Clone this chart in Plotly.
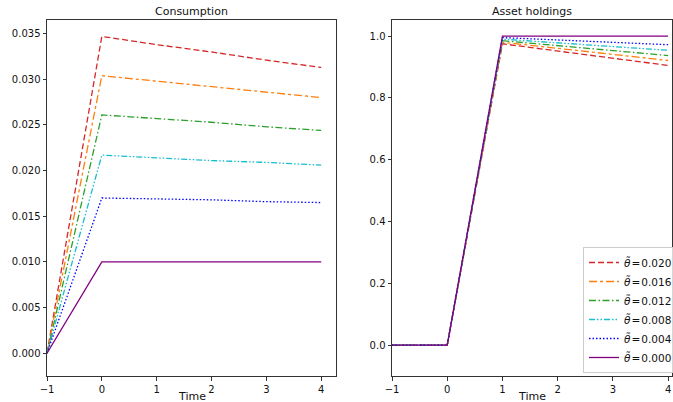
import plotly.graph_objects as go
from plotly.subplots import make_subplots

time = [-1, 0, 1, 2, 3, 4]
theta_labels = ["0.020", "0.016", "0.012", "0.008", "0.004", "0.000"]

consumption = [
    [0.0, 0.0347, 0.0338, 0.0330, 0.0321, 0.0313],
    [0.0, 0.0304, 0.0298, 0.0292, 0.0286, 0.0280],
    [0.0, 0.0261, 0.0257, 0.0253, 0.0248, 0.0244],
    [0.0, 0.0217, 0.0214, 0.0211, 0.0209, 0.0206],
    [0.0, 0.0170, 0.0169, 0.0168, 0.0166, 0.0165],
    [0.0, 0.0100, 0.0100, 0.0100, 0.0100, 0.0100],
]

assets = [
    [0.0, 0.0, 0.975, 0.951, 0.928, 0.905],
    [0.0, 0.0, 0.980, 0.960, 0.940, 0.921],
    [0.0, 0.0, 0.985, 0.969, 0.953, 0.937],
    [0.0, 0.0, 0.990, 0.978, 0.966, 0.954],
    [0.0, 0.0, 0.995, 0.987, 0.979, 0.972],
    [0.0, 0.0, 1.000, 1.000, 1.000, 1.000],
]

colors = ["#d62728", "#ff7f0e", "#2ca02c", "#17becf", "#0000ff", "#800080"]
dashes = ["6px,3px", "8px,3px,3px,3px", "7px,2.5px,1.5px,2.5px",
          "6px,2px,1.5px,2px,1.5px,2px", "1.5px,2px", "solid"]

# Figure slightly wider than the window: the legend box runs past the right edge like the original.
W, H = 685, 402
left_dom = [47 / W, 336 / W]
right_dom = [392 / W, 672 / W]
y_dom = [26 / H, 382 / H]

fig = make_subplots(rows=1, cols=2, subplot_titles=("Consumption", "Asset holdings"))

for i in range(6):
    name = "<i>θ̃</i>\u200a=\u200a" + theta_labels[i]
    fig.add_trace(go.Scatter(x=time, y=consumption[i], mode="lines", name=name,
                             legendgroup=str(i),
                             line=dict(color=colors[i], dash=dashes[i], width=1.3),
                             showlegend=False), row=1, col=1)
    fig.add_trace(go.Scatter(x=time, y=assets[i], mode="lines", name=name,
                             legendgroup=str(i),
                             line=dict(color=colors[i], dash=dashes[i], width=1.3),
                             showlegend=True), row=1, col=2)

axis_common = dict(showline=True, mirror=True, linecolor="#333", linewidth=1,
                   ticks="outside", ticklen=3.5, tickcolor="#333", showgrid=False,
                   zeroline=False, automargin=False, tickfont=dict(size=10, color="#111"))

fig.update_xaxes(**axis_common, tickvals=[-1, 0, 1, 2, 3, 4],
                 ticktext=["\u22121", "0", "1", "2", "3", "4"])
fig.update_xaxes(range=[-1, 4.27], domain=left_dom, row=1, col=1)
fig.update_xaxes(range=[-1, 4.07], domain=right_dom, row=1, col=2)

fig.update_yaxes(**axis_common, domain=y_dom)
fig.update_yaxes(range=[-0.0025, 0.0365],
                 tickvals=[0, 0.005, 0.01, 0.015, 0.02, 0.025, 0.03, 0.035],
                 ticktext=["0.000", "0.005", "0.010", "0.015", "0.020", "0.025", "0.030", "0.035"],
                 row=1, col=1)
fig.update_yaxes(range=[-0.1, 1.052], tickvals=[0, 0.2, 0.4, 0.6, 0.8, 1.0],
                 ticktext=["0.0", "0.2", "0.4", "0.6", "0.8", "1.0"], row=1, col=2)

doms = [left_dom, right_dom]
for k, ann in enumerate(fig.layout.annotations):
    ann.font = dict(size=11, color="#111")
    ann.x = (doms[k][0] + doms[k][1]) / 2
    ann.y = y_dom[1]
    ann.yanchor = "bottom"
    ann.yshift = 0

for d in doms:
    fig.add_annotation(text="Time", xref="paper", yref="paper",
                       x=(d[0] + d[1]) / 2, y=(H - 388) / H,
                       xanchor="center", yanchor="top", showarrow=False,
                       font=dict(size=11, color="#111"))

fig.update_layout(
    width=W, height=H,
    margin=dict(l=0, r=0, t=0, b=0),
    paper_bgcolor="white", plot_bgcolor="white",
    font=dict(family="DejaVu Sans", size=12, color="#111"),
    legend=dict(x=583 / W, xanchor="left", y=29 / H, yanchor="bottom",
                bgcolor="rgba(255,255,255,0.8)", bordercolor="#ccc", borderwidth=1,
                font=dict(size=10.5), itemwidth=30, tracegroupgap=0),
)

fig.write_html("out.html", config={"displayModeBar": False},
               post_script="document.body.style.margin='0px';")
